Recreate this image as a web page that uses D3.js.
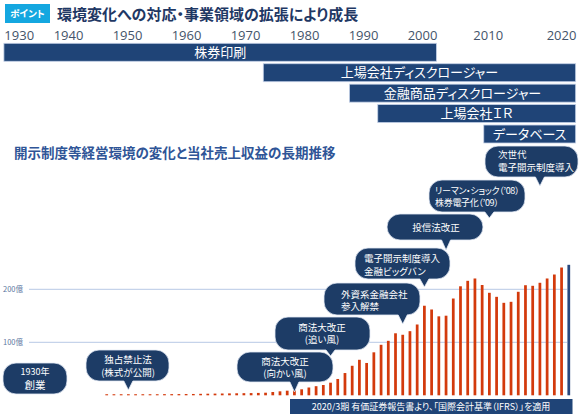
<!DOCTYPE html>
<html>
<head>
<meta charset="utf-8">
<script src="https://cdn.jsdelivr.net/npm/d3@7"></script>
<style>
body{margin:0;background:#fff;}
svg{display:block;font-family:"Noto Sans CJK JP","Noto Sans",sans-serif;}
text{font-feature-settings:"palt";}
</style>
</head>
<body>
<div class="chart"></div>
<script>
// timeline header
var tickYears=[1930,1940,1950,1960,1970,1980,1990,2000,2010,2020];
var lanes=["株券印刷","上場会社ディスクロージャー","金融商品ディスクロージャー","上場会社ＩＲ","データベース"];
var laneStart=[1927,1973.1,1987.7,1992.5,2009.4];
var laneEnd=[2002.2,2022,2022,2022,2022];

// revenue bars (fiscal year, 億円)
var fiscalYears=d3.range(1956,2021);
var sales=[2,2,2,2,2,2,2,2,2.2,2.2,
  2.3,2.4,2.5,2.8,3,3.2,3.4,3.6,3.8,4,
  4.2,4.5,4.9,6.2,7.5,8.7,9.4,11.3,14.7,17.2,
  19.4,23.8,30.8,42,55.7,67,61,81.1,95.3,102.8,
  117,114.2,121,133.6,169,161.9,149,150.2,182.6,205.7,
  216,220.4,208.1,193.4,185.8,174.5,176.4,195.3,207.7,206.6,
  212.3,220.4,227.9,241.1,246.2];
var gridValues=[100,200];
var gridLabels=["100億","200億"];

// callouts
var notes=[["1930年","創業"],["独占禁止法","(株式が公開)"],["商法大改正","(向かい風)"],["商法大改正","(追い風)"],
  ["外資系金融会社","参入解禁"],["電子開示制度導入","金融ビッグバン"],["投信法改正"],
  ["リーマン・ショック（’08）","株券電子化（’09）"],["次世代","電子開示制度導入"]];
var noteYears=[null,1959,1982,1987,1997,2000,2003,2009,2016];
var footNote="2020/3期 有価証券報告書より、「国際会計基準（IFRS）」を適用";

var svgWidth=587, svgHeight=420;
var svg=d3.select(".chart").append("svg")
  .attr("width",svgWidth)
  .attr("height",svgHeight);

//header
svg.append("rect").attr("x",5).attr("y",4).attr("width",45).attr("height",19).attr("fill","#14a7e0");
svg.append("text").attr("x",27.5).attr("y",17).attr("text-anchor","middle")
  .attr("font-size",9.5).attr("font-weight","bold").attr("fill","#fff").text("ポイント");
svg.append("text").attr("x",57).attr("y",19.5).attr("font-size",15).attr("font-weight","bold")
  .attr("fill","#1f3864").text("環境変化への対応・事業領域の拡張により成長");

//year scale for the timeline
var yearScale=d3.scaleLinear()
  .domain([1930,1940,2000,2010,2020])
  .range([18.7,68,422,487.7,561]);
var yearAxis=d3.axisTop(yearScale).tickValues(tickYears).tickFormat(d3.format("d")).tickSize(0).tickPadding(0);
var yearG=svg.append("g").attr("transform","translate(0,40)").call(yearAxis);
yearG.select(".domain").remove();
yearG.selectAll("text").attr("font-family","'Open Sans',sans-serif").attr("font-size",13)
  .attr("fill","#44546a").attr("y",0).attr("dy",0).style("font-feature-settings","normal");

var laneScale=d3.scaleBand().domain(lanes).range([43.3,143]).paddingInner(0.12);
var laneG=svg.append("g").selectAll("g").data(lanes).enter().append("g");
laneG.append("rect")
  .attr("x",(d,i)=>yearScale(laneStart[i]))
  .attr("y",d=>laneScale(d))
  .attr("width",(d,i)=>yearScale(laneEnd[i])-yearScale(laneStart[i]))
  .attr("height",laneScale.bandwidth())
  .attr("fill","#1f4477")
  .attr("stroke","#c3d0e6")
  .attr("stroke-width",0.8);
laneG.append("text")
  .attr("x",(d,i)=>(yearScale(laneStart[i])+yearScale(laneEnd[i]))/2)
  .attr("y",d=>laneScale(d)+laneScale.bandwidth()/2+4.7)
  .attr("text-anchor","middle").attr("font-size",13).attr("fill","#fff")
  .text(d=>d);

//subtitle
svg.append("text").attr("x",14).attr("y",158).attr("font-size",13.5).attr("font-weight","bold")
  .attr("fill","#2f5597").text("開示制度等経営環境の変化と当社売上収益の長期推移");

//bar scales
var xScale=d3.scaleBand().domain(fiscalYears).range([103.1,572.4]).paddingInner(0.62).paddingOuter(0.31);
var yScale=d3.scaleLinear().domain([0,200]).range([395.3,289.3]);

//gridlines
var grid=svg.append("g");
grid.selectAll("line").data(gridValues).enter().append("line")
  .attr("x1",29).attr("x2",567)
  .attr("y1",d=>yScale(d)).attr("y2",d=>yScale(d))
  .attr("stroke","#c5d3ea").attr("stroke-width",1.2);
grid.selectAll("text").data(gridValues).enter().append("text")
  .attr("x",3).attr("y",d=>yScale(d)+2.8)
  .attr("font-size",7.5).attr("fill","#5b76a0")
  .text((d,i)=>gridLabels[i]);

//bars
svg.append("g").selectAll("rect").data(sales).enter().append("rect")
  .attr("x",(d,i)=>xScale(fiscalYears[i]))
  .attr("y",d=>yScale(d))
  .attr("width",xScale.bandwidth())
  .attr("height",d=>yScale(0)-yScale(d))
  .attr("fill",(d,i)=>i==sales.length-1?"#27477d":"#d33a0c");

//footnote banner
svg.append("rect").attr("x",290).attr("y",399).attr("width",282.5).attr("height",15).attr("fill","#1f4477");
svg.append("text").attr("x",431).attr("y",410.2).attr("text-anchor","middle")
  .attr("font-size",9).attr("fill","#fff").text(footNote);

//callout layout: box x0,y0,x1,y1, tip y, text x, first baseline, line step, anchor
var noteBoxes=[
  [3,363,67,394,null,35,375,14,"middle"],
  [86,350,169,381,390,128,363,12.5,"middle"],
  [237,352,333,382,392,285,364.5,12.5,"middle"],
  [275,317,370,350,356,322,330.5,12.5,"middle"],
  [324,283,420,315,324,341,297.5,12.5,"start"],
  [355,248,450,279,287,364,262,12.5,"start"],
  [387,214,483,240,250,436,231,0,"middle"],
  [429,180,525,212,218,435,193.5,12,"start"],
  [485,146,578,177,186,498,158,13,"start"]
];

function bubblePath(b,tx){
  var x0=b[0],y0=b[1],x1=b[2],y1=b[3],ty=b[4];
  var r=Math.min(13,(y1-y0)/2);
  var p="M"+(x0+r)+","+y0+"H"+(x1-r)+"A"+r+","+r+" 0 0 1 "+x1+","+(y0+r)
    +"V"+(y1-r)+"A"+r+","+r+" 0 0 1 "+(x1-r)+","+y1;
  if(ty!=null){
    p+="H"+(tx+4.5)+"L"+tx+","+ty+"L"+(tx-4.5)+","+y1;
  }
  p+="H"+(x0+r)+"A"+r+","+r+" 0 0 1 "+x0+","+(y1-r)+"V"+(y0+r)+"A"+r+","+r+" 0 0 1 "+(x0+r)+","+y0+"Z";
  return p;
}

var noteG=svg.append("g").selectAll("g").data(notes).enter().append("g");
noteG.append("path")
  .attr("d",(d,i)=>{
    var yr=noteYears[i];
    var tx=yr==null?0:xScale(yr)+xScale.bandwidth()/2;
    return bubblePath(noteBoxes[i],tx);
  })
  .attr("fill","#1d3c66")
  .attr("stroke","#e3eaf5")
  .attr("stroke-width",0.8);
noteG.each(function(d,i){
  var b=noteBoxes[i];
  var t=d3.select(this).append("text")
    .attr("text-anchor",b[8])
    .attr("fill","#fff")
    .attr("font-size",9.5);
  d.forEach(function(line,j){
    var sp=t.append("tspan").attr("x",b[5]).attr("y",b[6]+j*b[7]).text(line);
    if(i==0&&j==0)sp.attr("font-size",9);
    if(i==0&&j==1)sp.attr("font-size",10.5);
    if(i==7)sp.attr("font-size",9).attr("letter-spacing",-0.3);
  });
});
</script>
</body>
</html>
